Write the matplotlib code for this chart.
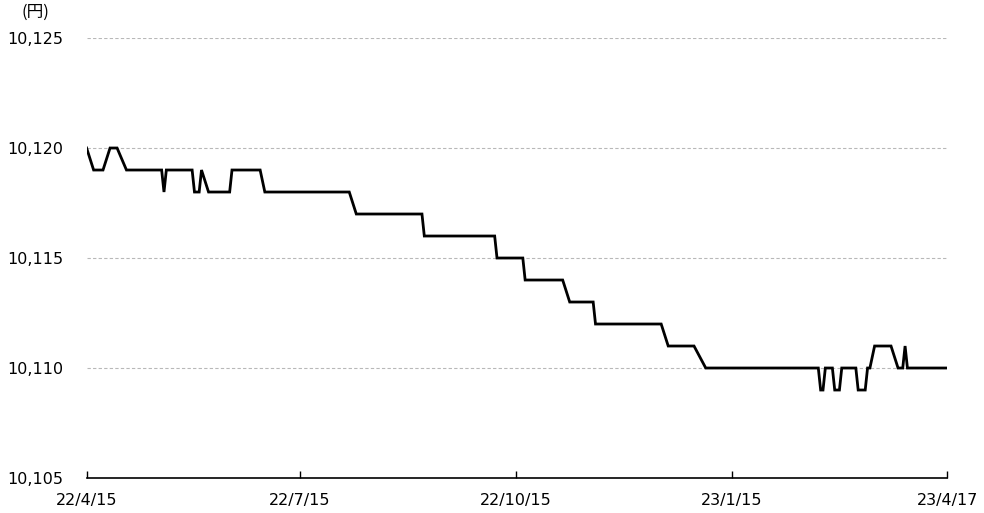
import matplotlib
matplotlib.use("Agg")
import matplotlib.pyplot as plt
import numpy as np
import pandas as pd

plt.rcParams['font.family'] = ['DejaVu Sans', 'Noto Sans CJK JP']

# 基準価額の推移 (変化点のみ)
dates = ["2022-04-15", "2022-04-18", "2022-04-22", "2022-04-25", "2022-04-28",
         "2022-05-02", "2022-05-17", "2022-05-18", "2022-05-19", "2022-05-30",
         "2022-05-31", "2022-06-02", "2022-06-03", "2022-06-06", "2022-06-15",
         "2022-06-16", "2022-06-28", "2022-06-30", "2022-08-05", "2022-08-08",
         "2022-09-05", "2022-09-06", "2022-10-06", "2022-10-07", "2022-10-18",
         "2022-10-19", "2022-11-04", "2022-11-07", "2022-11-17", "2022-11-18",
         "2022-12-16", "2022-12-19", "2022-12-30", "2023-01-04", "2023-02-21",
         "2023-02-22", "2023-02-23", "2023-02-24", "2023-02-27", "2023-02-28",
         "2023-03-02", "2023-03-03", "2023-03-09", "2023-03-10", "2023-03-13",
         "2023-03-14", "2023-03-15", "2023-03-17", "2023-03-24", "2023-03-27",
         "2023-03-29", "2023-03-30", "2023-03-31", "2023-04-17"]
values = [10120, 10119, 10119, 10120, 10120,
          10119, 10119, 10118, 10119, 10119,
          10118, 10118, 10119, 10118, 10118,
          10119, 10119, 10118, 10118, 10117,
          10117, 10116, 10116, 10115, 10115,
          10114, 10114, 10113, 10113, 10112,
          10112, 10111, 10111, 10110, 10110,
          10109, 10109, 10110, 10110, 10109,
          10109, 10110, 10110, 10109, 10109,
          10110, 10110, 10111, 10111, 10110,
          10110, 10111, 10110, 10110]

xticks = ["2022-04-15", "2022-07-15", "2022-10-15", "2023-01-15", "2023-04-17"]
xlabels = ["22/4/15", "22/7/15", "22/10/15", "23/1/15", "23/4/17"]
yticks = [10105, 10110, 10115, 10120, 10125]

x = pd.to_datetime(dates)

fig = plt.figure(figsize=(9.84, 5.13), dpi=100)
ax = fig.add_axes([0.088, 0.0682, 0.8747, 0.8577])

ax.plot(x, values, color="black", lw=2.0, solid_joinstyle="miter")

ax.set_xlim(pd.Timestamp(xticks[0]), pd.Timestamp(xticks[-1]))
ax.set_ylim(10105, 10125)
ax.set_xticks(pd.to_datetime(xticks))
ax.set_xticklabels(xlabels)
ax.set_yticks(yticks)
ax.set_yticklabels([f"{v:,}" for v in yticks])

for v in yticks[1:]:
    ax.axhline(v, color="#b8b8b8", lw=0.8, ls=(0, (3, 2)), zorder=0)

for s in ["left", "right", "top"]:
    ax.spines[s].set_visible(False)
ax.spines["bottom"].set_color("black")
ax.spines["bottom"].set_linewidth(1.2)

ax.tick_params(axis="x", direction="in", length=5, width=1, pad=11, labelsize=11.5)
ax.tick_params(axis="y", length=0, pad=17, labelsize=11.5)

fig.text(0.036, 0.976, "(円)", fontsize=12, va="center", ha="center",
         family=["Noto Sans CJK JP", "DejaVu Sans"])

fig.savefig("out.png", dpi=100)
